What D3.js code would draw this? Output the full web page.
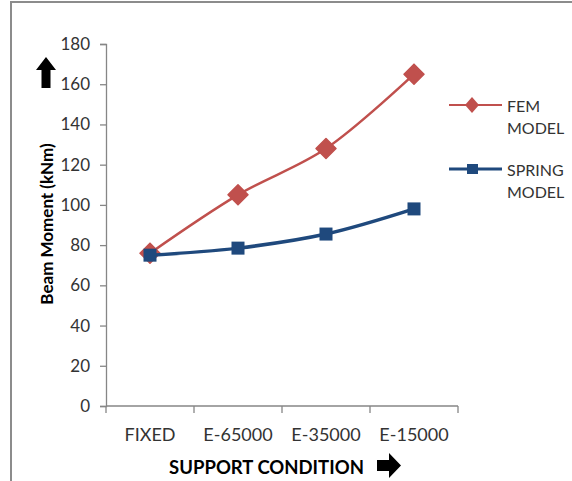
<!DOCTYPE html>
<html>
<head>
<meta charset="utf-8">
<script src="https://cdn.jsdelivr.net/npm/d3@7/dist/d3.min.js"></script>
<style>
  body { margin: 0; background: #fff; }
  svg { display: block; }
  svg text { font-family: Lato, "Open Sans", sans-serif; }
</style>
</head>
<body>
<svg id="chart" width="572" height="481"></svg>
<script>
// Support conditions along the x axis
const categories = ["FIXED", "E-65000", "E-35000", "E-15000"];
// Beam moment (kNm) for each model
const femValues = [76, 105, 128, 165];
const springValues = [75, 78.5, 85.5, 98];
const yTicks = [0, 20, 40, 60, 80, 100, 120, 140, 160, 180];
const seriesNames = [["FEM", "MODEL"], ["SPRING", "MODEL"]];

const svg = d3.select("#chart");

// Outer frame (top and left edges)
svg.append("line").attr("x1", 11).attr("x2", 572).attr("y1", 2).attr("y2", 2)
  .attr("stroke", "#8c8c8c").attr("stroke-width", 2);
svg.append("line").attr("x1", 11).attr("x2", 11).attr("y1", 1).attr("y2", 481)
  .attr("stroke", "#8c8c8c").attr("stroke-width", 2);

const plot = { left: 106, right: 458, top: 44, bottom: 406 };

const x = d3.scaleBand().domain(categories).range([plot.left, plot.right]);
const y = d3.scaleLinear().domain([0, 180]).range([plot.bottom, plot.top]);

// Y axis
const yAxis = svg.append("g").attr("transform", `translate(${plot.left},0)`)
  .call(d3.axisLeft(y).tickValues(yTicks).tickSize(6).tickPadding(10));
// X axis with ticks between categories
const xAxis = svg.append("g").attr("transform", `translate(0,${plot.bottom})`)
  .call(d3.axisBottom(x).tickSize(0).tickPadding(22));
const bounds = categories.map(c => x(c)).concat([x(categories[categories.length - 1]) + x.bandwidth()]);
xAxis.selectAll(".sep").data(bounds).enter().append("line")
  .attr("class", "sep").attr("x1", d => d).attr("x2", d => d)
  .attr("y1", 0).attr("y2", 7);

[yAxis, xAxis].forEach(g => {
  g.attr("font-family", null);
  g.selectAll(".domain, line").attr("stroke", "#868686").attr("stroke-width", 1.3);
  g.selectAll("text").attr("fill", "#333");
});
yAxis.selectAll("text").style("font-size", "17px");
xAxis.selectAll("text").style("font-size", "18px");
xAxis.select(".domain").attr("d", `M${plot.left},0H${plot.right}`);

// Axis titles
svg.append("text")
  .attr("transform", "translate(53,224) rotate(-90)")
  .attr("text-anchor", "middle").attr("font-weight", "bold").style("font-size", "17px")
  .attr("fill", "#000").text("Beam Moment (kNm)");
svg.append("text").attr("x", 266.5).attr("y", 474)
  .attr("text-anchor", "middle").attr("font-weight", "bold").style("font-size", "18.5px")
  .attr("fill", "#000").text("SUPPORT CONDITION");

// Direction arrows next to the titles
svg.append("path").attr("fill", "#000")
  .attr("d", "M46,57 L56,70 L50.5,70 L50.5,88 L41.5,88 L41.5,70 L36,70 Z");
svg.append("path").attr("fill", "#000")
  .attr("d", "M401,465.5 L389,453 L389,460 L377,460 L377,471 L389,471 L389,478 Z");

const cx = d => x(d) + x.bandwidth() / 2;
const line = d3.line().curve(d3.curveCatmullRom.alpha(0.5));

const series = [
  { values: femValues, color: "#c0504d", width: 2.5, shape: "diamond" },
  { values: springValues, color: "#1f497d", width: 3.5, shape: "square" }
];

function marker(g, shape, color, px, py) {
  if (shape === "diamond") {
    g.append("path").attr("d", `M${px},${py - 10}L${px + 10},${py}L${px},${py + 10}L${px - 10},${py}Z`)
      .attr("fill", color).attr("stroke", color).attr("stroke-width", 1.5).attr("stroke-linejoin", "round");
  } else {
    g.append("rect").attr("x", px - 6.5).attr("y", py - 6.5).attr("width", 13).attr("height", 13)
      .attr("fill", color);
  }
}

series.forEach(s => {
  const pts = categories.map((c, i) => [cx(c), y(s.values[i])]);
  svg.append("path").attr("d", line(pts)).attr("fill", "none")
    .attr("stroke", s.color).attr("stroke-width", s.width);
  const g = svg.append("g");
  pts.forEach(p => marker(g, s.shape, s.color, p[0], p[1]));
});

// Legend
const legendY = [105, 169];
series.forEach((s, i) => {
  const ly = legendY[i];
  svg.append("line").attr("x1", 449).attr("x2", 502).attr("y1", ly).attr("y2", ly)
    .attr("stroke", s.color).attr("stroke-width", s.width - 0.5);
  const g = svg.append("g");
  if (s.shape === "diamond") {
    g.append("path").attr("d", `M472,${ly - 8}L479,${ly}L472,${ly + 8}L465,${ly}Z`).attr("fill", s.color);
  } else {
    g.append("rect").attr("x", 467).attr("y", ly - 5).attr("width", 11).attr("height", 10).attr("fill", s.color);
  }
  seriesNames[i].forEach((t, j) => {
    svg.append("text").attr("x", 507).attr("y", ly + 7 + j * 22)
      .style("font-size", "16px").attr("fill", "#333").text(t);
  });
});
</script>
</body>
</html>
